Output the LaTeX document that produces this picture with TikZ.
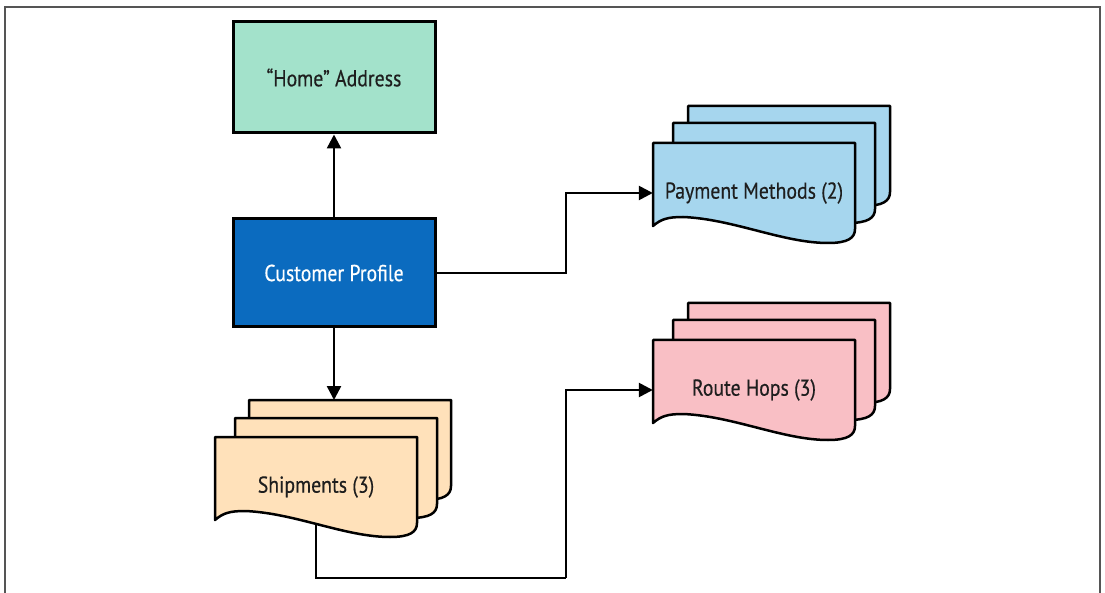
\documentclass[tikz,border=0pt]{standalone}
\usepackage{fontspec}
\newfontfamily\lbl{PT Sans}[FakeStretch=0.86,FakeBold=0.4]
\usetikzlibrary{arrows.meta,backgrounds}
\definecolor{homefill}{HTML}{A3E2CB}
\definecolor{cpfill}{HTML}{0B6BBF}
\definecolor{payfill}{HTML}{A6D6EE}
\definecolor{routefill}{HTML}{F9BFC5}
\definecolor{shipfill}{HTML}{FFE1BA}
\definecolor{framegray}{HTML}{555555}
\definecolor{txt}{HTML}{1E1E1E}
\tikzset{
  box/.style={draw=black, line width=3pt, minimum width=202pt, minimum height=108pt, inner sep=0pt,
    font=\lbl\fontsize{23}{26}\selectfont, text=txt},
  label/.style={inner sep=0pt, minimum width=202pt, minimum height=100pt,
    font=\lbl\fontsize{23}{26}\selectfont, text=txt},
  arr/.style={line width=2.5pt, -{Triangle[length=14pt,width=14pt]}},
  conn/.style={line width=2.5pt},
  pics/sheet/.style={code={
    \path[draw=black, line width=2.5pt, fill=#1, line join=round]
      (0,83) .. controls (8,76) and (15,74) .. (30,74)
      .. controls (80,76) and (130,100) .. (175,100)
      .. controls (195,100) and (202,95) .. (202,86)
      -- (202,0) -- (0,0) -- cycle;
  }}
}
\begin{document}
\begin{tikzpicture}[x=1pt,y=-1pt]
\useasboundingbox (0,0) rectangle (1105,593);
% frame
\draw[framegray, line width=2.5pt] (5,620) -- (5,7) -- (1100,7) -- (1100,620);

% boxes
\node[box, fill=homefill, minimum height=111pt] (home) at (334,77.5) {“Home” Address};
\node[box, fill=cpfill, text=white] (cp) at (334,273) {Customer Profile};

% coordinates
\coordinate (shipin) at (334,400);
\coordinate (bendpay) at (566,193);
\coordinate (bendroute) at (566,578);

% shipments stack
\pic at (249,400) {sheet=shipfill};
\pic at (235,418) {sheet=shipfill};
\pic at (215,437) {sheet=shipfill};
\node[label] (ship) at (316,487) {Shipments (3)};

% payment stack
\pic at (688,106) {sheet=payfill};
\pic at (673,123) {sheet=payfill};
\pic at (653,143) {sheet=payfill};
\node[label] (pay) at (754,193) {Payment Methods (2)};

% route stack
\pic at (688,303) {sheet=routefill};
\pic at (673,320) {sheet=routefill};
\pic at (653,340) {sheet=routefill};
\node[label] (route) at (754,390) {Route Hops (3)};

% connectors
\begin{scope}[on background layer]
  \draw[conn] (ship.center) |- (bendroute);
\end{scope}
\draw[arr] (cp.north) -- (home.south);
\draw[arr] (cp.south) -- (shipin);
\draw[arr] (cp.east) -| (bendpay) -- (pay.west);
\draw[arr] (bendroute) |- (route.west);
\end{tikzpicture}
\end{document}
